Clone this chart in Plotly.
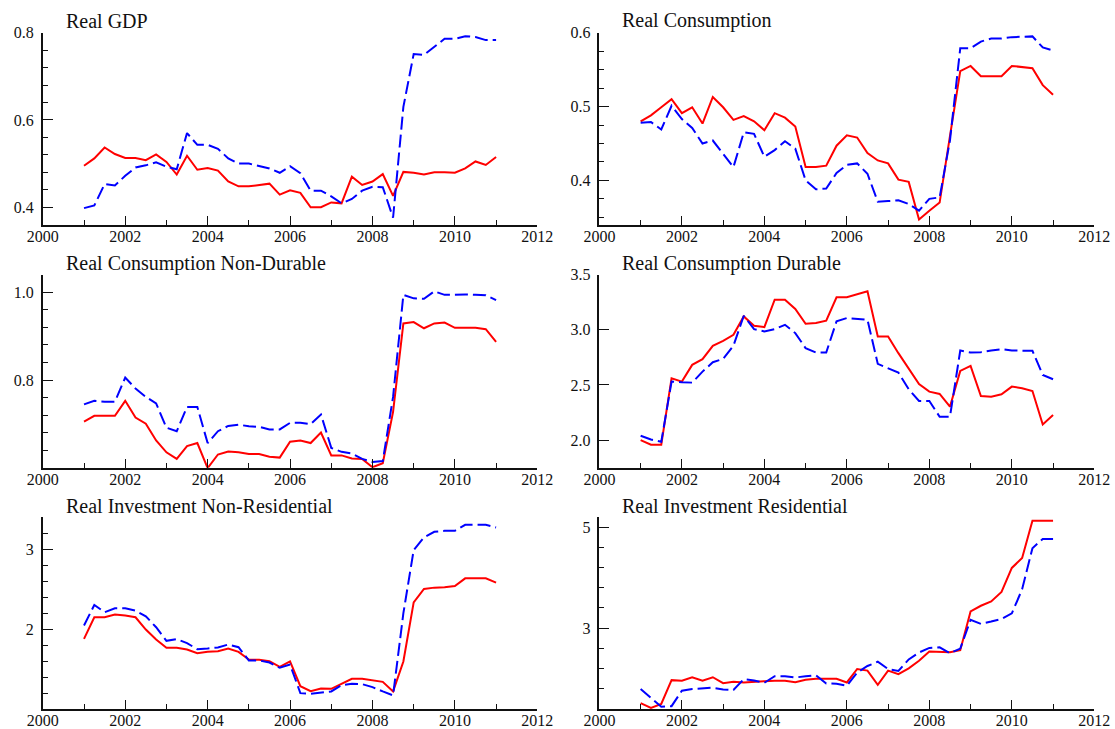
import plotly.graph_objects as go

# Quarterly observations, 2001Q1 .. 2011Q1
quarters = [2001 + 0.25 * i for i in range(41)]

titles = [
    "Real GDP",
    "Real Consumption",
    "Real Consumption Non-Durable",
    "Real Consumption Durable",
    "Real Investment Non-Residential",
    "Real Investment Residential",
]

gdp_red = [0.495, 0.512, 0.537, 0.522, 0.513, 0.513, 0.508, 0.521, 0.504, 0.475,
           0.518, 0.486, 0.490, 0.484, 0.459, 0.448, 0.448, 0.451, 0.454, 0.429,
           0.439, 0.433, 0.400, 0.400, 0.411, 0.409, 0.470, 0.451, 0.459, 0.476,
           0.426, 0.481, 0.479, 0.475, 0.480, 0.480, 0.479, 0.489, 0.505, 0.497,
           0.515]
gdp_blue = [0.398, 0.404, 0.453, 0.450, 0.472, 0.491, 0.496, 0.503, 0.493, 0.487,
            0.570, 0.543, 0.543, 0.534, 0.512, 0.500, 0.500, 0.495, 0.489, 0.479,
            0.494, 0.478, 0.438, 0.438, 0.425, 0.409, 0.419, 0.438, 0.447, 0.446,
            0.376, 0.630, 0.751, 0.749, 0.768, 0.786, 0.786, 0.792, 0.790, 0.783,
            0.783]

cons_red = [0.480, 0.488, 0.499, 0.510, 0.491, 0.499, 0.477, 0.513, 0.499, 0.482,
            0.487, 0.480, 0.468, 0.491, 0.485, 0.473, 0.418, 0.418, 0.420, 0.447,
            0.461, 0.458, 0.437, 0.427, 0.423, 0.401, 0.398, 0.347, 0.359, 0.370,
            0.460, 0.548, 0.555, 0.541, 0.541, 0.541, 0.555, 0.553, 0.552, 0.529,
            0.516]
cons_blue = [0.478, 0.479, 0.469, 0.501, 0.483, 0.471, 0.450, 0.454, 0.436, 0.418,
             0.465, 0.463, 0.432, 0.441, 0.453, 0.443, 0.400, 0.388, 0.389, 0.410,
             0.421, 0.423, 0.409, 0.371, 0.372, 0.373, 0.368, 0.359, 0.375, 0.377,
             0.454, 0.579, 0.579, 0.588, 0.592, 0.592, 0.594, 0.595, 0.595, 0.580,
             0.576]

nondur_red = [0.706, 0.719, 0.719, 0.719, 0.753, 0.715, 0.701, 0.663, 0.636, 0.621,
              0.650, 0.657, 0.600, 0.631, 0.638, 0.636, 0.632, 0.632, 0.626, 0.624,
              0.660, 0.663, 0.657, 0.681, 0.629, 0.629, 0.622, 0.621, 0.602, 0.611,
              0.728, 0.929, 0.932, 0.918, 0.929, 0.931, 0.919, 0.919, 0.919, 0.916,
              0.887]
nondur_blue = [0.745, 0.753, 0.751, 0.751, 0.806, 0.781, 0.762, 0.747, 0.692, 0.684,
               0.739, 0.739, 0.657, 0.684, 0.696, 0.699, 0.695, 0.694, 0.688, 0.688,
               0.703, 0.703, 0.700, 0.722, 0.646, 0.637, 0.633, 0.621, 0.614, 0.616,
               0.762, 0.994, 0.986, 0.985, 1.002, 0.994, 0.994, 0.995, 0.994, 0.993,
               0.982]

dur_red = [2.000, 1.958, 1.958, 2.561, 2.530, 2.682, 2.733, 2.855, 2.900, 2.955,
           3.121, 3.036, 3.024, 3.273, 3.273, 3.188, 3.055, 3.061, 3.082, 3.294,
           3.294, 3.318, 3.348, 2.939, 2.939, 2.788, 2.652, 2.509, 2.439, 2.418,
           2.303, 2.627, 2.673, 2.400, 2.394, 2.415, 2.485, 2.470, 2.445, 2.142,
           2.227]
dur_blue = [2.039, 2.006, 1.985, 2.530, 2.524, 2.521, 2.621, 2.706, 2.736, 2.855,
            3.127, 3.006, 2.985, 3.006, 3.045, 2.970, 2.833, 2.794, 2.794, 3.076,
            3.106, 3.100, 3.091, 2.691, 2.652, 2.612, 2.461, 2.355, 2.355, 2.212,
            2.212, 2.812, 2.794, 2.797, 2.812, 2.824, 2.812, 2.812, 2.809, 2.591,
            2.552]

invnr_red = [1.880, 2.149, 2.149, 2.183, 2.170, 2.149, 1.996, 1.871, 1.768, 1.768,
             1.747, 1.701, 1.718, 1.726, 1.759, 1.718, 1.622, 1.618, 1.602, 1.531,
             1.598, 1.290, 1.228, 1.261, 1.257, 1.324, 1.382, 1.382, 1.361, 1.344,
             1.224, 1.598, 2.336, 2.502, 2.519, 2.523, 2.539, 2.635, 2.635, 2.635,
             2.581]
invnr_blue = [2.046, 2.303, 2.212, 2.261, 2.261, 2.232, 2.162, 2.025, 1.855, 1.876,
              1.826, 1.751, 1.759, 1.772, 1.809, 1.776, 1.610, 1.610, 1.585, 1.519,
              1.560, 1.203, 1.195, 1.212, 1.224, 1.303, 1.320, 1.315, 1.278, 1.224,
              1.174, 2.200, 2.988, 3.145, 3.216, 3.228, 3.228, 3.303, 3.303, 3.303,
              3.270]

invr_red = [1.515, 1.423, 1.502, 1.971, 1.958, 2.029, 1.958, 2.029, 1.912, 1.938,
            1.925, 1.945, 1.951, 1.958, 1.958, 1.932, 1.977, 1.997, 1.997, 1.997,
            1.925, 2.192, 2.160, 1.880, 2.160, 2.088, 2.205, 2.355, 2.537, 2.524,
            2.524, 2.564, 3.332, 3.443, 3.528, 3.717, 4.192, 4.388, 5.124, 5.124,
            5.124]
invr_blue = [1.795, 1.619, 1.443, 1.456, 1.762, 1.795, 1.801, 1.821, 1.788, 1.775,
             1.990, 1.964, 1.919, 2.049, 2.049, 2.023, 2.049, 2.068, 1.906, 1.899,
             1.860, 2.121, 2.251, 2.336, 2.192, 2.153, 2.381, 2.518, 2.609, 2.622,
             2.505, 2.596, 3.163, 3.085, 3.130, 3.182, 3.293, 3.769, 4.583, 4.765,
             4.765]

red_series = [gdp_red, cons_red, nondur_red, dur_red, invnr_red, invr_red]
blue_series = [gdp_blue, cons_blue, nondur_blue, dur_blue, invnr_blue, invr_blue]

# y-axis ranges and tick spacing per panel (lower bounds sit just above an
# unlabelled tick so the corner stays clear of the year labels)
y_ranges = [(0.36, 0.80), (0.34, 0.60), (0.601, 1.04), (1.75, 3.50), (1.005, 3.4), (1.4, 5.2)]
y_tick0 = [0.4, 0.4, 0.8, 2.0, 2.0, 3.0]
y_dtick = [0.2, 0.1, 0.2, 0.5, 1.0, 2.0]
y_minor = [0.04, 0.025, 0.04, None, 0.2, 0.4]
y_fmt = [".1f", ".1f", ".1f", ".1f", ".0f", ".0f"]

W, H = 1115, 729
FONT = "Liberation Serif"
INK = "#111111"

# panel geometry in pixels
col_px = [(42.8, 537.3), (599.4, 1094.3)]
row_px = [(32.7, 224.7), (274.6, 467.7), (517.0, 709.0)]
title_baseline = [27.7, 270.7, 513.3]

fig = go.Figure()
axis_common = dict(showline=True, linecolor=INK, linewidth=1.5, showgrid=False,
                   zeroline=False, ticks="inside", tickcolor=INK, tickwidth=1.3,
                   automargin=False,
                   tickfont=dict(family=FONT, size=16, color=INK))

for k in range(6):
    r, c = divmod(k, 2)
    n = k + 1
    xa = "x" if n == 1 else f"x{n}"
    ya = "y" if n == 1 else f"y{n}"
    fig.add_trace(go.Scatter(x=quarters, y=red_series[k], mode="lines",
                             line=dict(color="#ff0000", width=2),
                             xaxis=xa, yaxis=ya, showlegend=False))
    fig.add_trace(go.Scatter(x=quarters, y=blue_series[k], mode="lines",
                             line=dict(color="#0000ff", width=2, dash="13px,5px"),
                             xaxis=xa, yaxis=ya, showlegend=False))

    x0, x1 = col_px[c]
    top, bot = row_px[r]
    xdom = [x0 / W, x1 / W]
    ydom = [1 - bot / H, 1 - top / H]

    xkw = dict(axis_common, domain=xdom, range=[2000, 2012], anchor=ya,
               tickmode="linear", tick0=2000, dtick=2, ticklen=9,
               ticklabelstandoff=-4,
               minor=dict(tick0=2000, dtick=1, ticks="inside", ticklen=5,
                          tickcolor=INK, tickwidth=1.3))
    ykw = dict(axis_common, domain=ydom, range=list(y_ranges[k]), anchor=xa,
               tickmode="linear", tick0=y_tick0[k], dtick=y_dtick[k],
               tickformat=y_fmt[k], ticklen=10, ticklabelstandoff=4)
    if y_minor[k]:
        ykw["minor"] = dict(tick0=y_tick0[k], dtick=y_minor[k], ticks="inside",
                            ticklen=5, tickcolor=INK, tickwidth=1.3)
    fig.layout["xaxis" if n == 1 else f"xaxis{n}"] = xkw
    fig.layout["yaxis" if n == 1 else f"yaxis{n}"] = ykw

    fig.add_annotation(text=titles[k], xref="paper", yref="paper",
                       x=(x0 + 21.0) / W, y=1 - (title_baseline[r] + 6) / H,
                       xanchor="left", yanchor="bottom", showarrow=False,
                       font=dict(family=FONT, size=20, color=INK))

fig.update_layout(template="none", width=W, height=H,
                  margin=dict(l=0, r=0, t=0, b=0, autoexpand=False),
                  paper_bgcolor="white", plot_bgcolor="white",
                  font=dict(family=FONT, color=INK))

fig.write_html("out.html")
